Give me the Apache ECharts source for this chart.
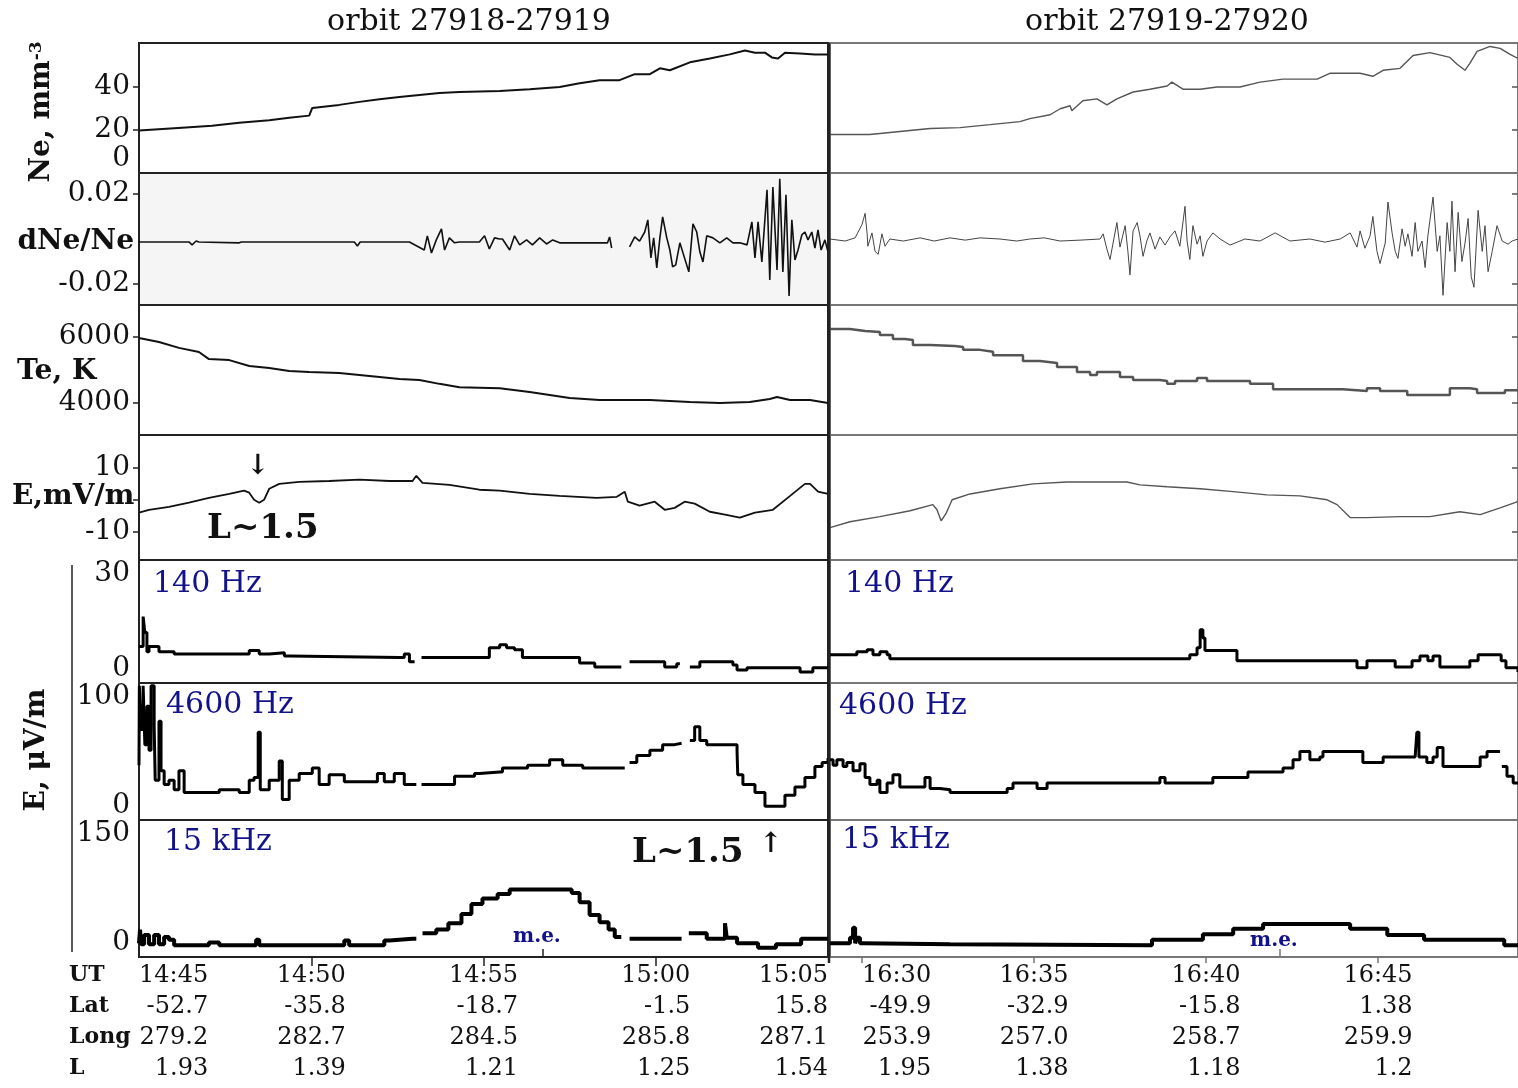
<!DOCTYPE html>
<html><head><meta charset="utf-8"><title>Orbits 27918-27920</title>
<script src="https://cdn.jsdelivr.net/npm/echarts@6.0.0/dist/echarts.min.js"></script>
<style>html,body{margin:0;padding:0;background:#fff;}#chart{width:1518px;height:1088px;}</style>
</head><body><div id="chart"></div>
<script>
// ---------- bottom tick-label table ----------
const utLeft   = ['14:45','14:50','14:55','15:00','15:05'];
const latLeft  = ['-52.7','-35.8','-18.7','-1.5','15.8'];
const longLeft = ['279.2','282.7','284.5','285.8','287.1'];
const lLeft    = ['1.93','1.39','1.21','1.25','1.54'];
const utRight   = ['16:30','16:35','16:40','16:45'];
const latRight  = ['-49.9','-32.9','-15.8','1.38'];
const longRight = ['253.9','257.0','258.7','259.9'];
const lRight    = ['1.95','1.38','1.18','1.2'];

// ---------- data: [minutes after 14:45 (left) / after 16:30 (right), value] ----------
const neLeft = [[0,19.8],[1.25,21.1],[2.12,22],[2.91,23.4],[3.78,24.6],[4.36,25.7],[4.94,26.7],[5.03,30.3],[5.81,31.7],[6.40,33.1],[6.98,34.3],[7.56,35.4],[8.14,36.3],[8.72,37.2],[9.30,37.7],[10.47,38.2],[11.34,39],[12.21,40],[12.79,41.8],[13.37,43.2],[13.95,43.2],[14.39,46],[14.83,46],[15.12,48.7],[15.41,47.8],[15.99,51.5],[16.57,53.3],[17.15,55.2],[17.59,57],[17.88,56],[18.17,56],[18.37,53.8],[18.55,53.3],[18.75,56],[19.19,55.6],[19.62,55.2],[20,55.2]];
const neRight = [[-0.93,17.9],[0.23,17.9],[1.10,19.3],[1.98,20.7],[2.85,21.1],[3.72,22.5],[4.01,23],[4.59,23.9],[4.88,25.3],[5.47,27.1],[5.76,29.9],[6.05,31.3],[6.10,29],[6.42,33.6],[6.83,34.5],[7.12,31.7],[7.41,34.5],[7.88,37.7],[8.37,39],[8.87,40.5],[9.01,42.3],[9.33,39],[9.83,39],[10.32,40],[10.99,40],[11.57,42.3],[12.24,43.7],[13.23,43.7],[13.60,46.4],[14.48,46.4],[14.85,45],[15.15,47.8],[15.64,48.7],[16.02,54.7],[16.51,56],[17.09,53.8],[17.30,50.6],[17.53,47.8],[17.67,51],[17.88,56.6],[18.26,58.9],[18.55,58],[18.84,55.2],[19.07,53.3]];

// dNe/Ne, values in units of 1e-3
const dneLeftMilli = [[0,-1.3],[1.45,-1.3],[1.54,-2.6],[1.66,-0.9],[1.74,-1.3],[2.91,-1.7],[2.97,-1.3],[6.25,-1.3],[6.34,-3.1],[6.42,-1.3],[7.85,-1.3],[8.28,-4.9],[8.37,1.4],[8.49,-6.2],[8.63,-0.4],[8.78,4.5],[8.87,-4.9],[9.01,0.5],[9.16,-1.7],[9.30,-1.3],[9.88,-1.3],[10.03,1.4],[10.17,-4.4],[10.32,0.5],[10.47,0],[10.55,0],[10.76,-4.9],[10.90,1.4],[11.05,-2.6],[11.25,-0.4],[11.42,-2.6],[11.63,0.5],[11.83,-2.2],[12.01,-0.4],[12.21,-1.7],[13.60,-1.7],[13.66,0.9],[13.72,-4.0],[13.9,null],[14.24,-3.5],[14.39,0.9],[14.53,-0.9],[14.68,3.1],[14.77,8.5],[14.86,-8.4],[14.94,0.5],[15.03,-12.8],[15.12,0.5],[15.20,9.8],[15.32,0.5],[15.41,-4.9],[15.49,-12.4],[15.58,-11.5],[15.70,-1.7],[15.96,-14.6],[16.08,6.7],[16.19,3.1],[16.28,-5.7],[16.37,-10.2],[16.48,1.4],[16.66,0.5],[16.86,-1.7],[17.06,0.5],[17.24,-1.7],[17.44,-1.7],[17.65,-2.6],[17.79,7.6],[17.88,-8.4],[17.97,7.6],[18.08,-10.2],[18.23,21.8],[18.31,-18.2],[18.40,23.1],[18.52,-13.7],[18.60,26.7],[18.69,-14.6],[18.78,19.6],[18.87,-25.3],[18.95,8.5],[19.04,-9.3],[19.13,-4.9],[19.24,1.8],[19.33,3.1],[19.42,-0.4],[19.53,3.1],[19.62,-4.0],[19.71,4.0],[19.80,-4.9],[19.91,-0.4],[20,-5.7]];
const dneRightMilli = [[-0.93,0],[-0.49,-0.9],[-0.20,0.5],[0,6.4],[0.09,11.4],[0.15,2.3],[0.17,-3.2],[0.29,2.7],[0.38,-5.5],[0.47,-6.8],[0.58,2.3],[0.67,-3.2],[0.81,0],[1.2,-0.9],[1.69,0.5],[2.1,-0.9],[2.56,0.5],[3.0,-0.5],[3.43,0.5],[4.01,0],[4.5,-0.9],[4.88,0],[5.3,0.5],[5.76,-0.9],[6.34,-0.5],[6.92,0],[7.01,2.3],[7.12,-4.5],[7.21,-9.1],[7.41,7.3],[7.50,-3.6],[7.65,5.9],[7.73,-5.5],[7.79,-15.9],[7.88,3.6],[8.00,7.3],[8.08,1.4],[8.17,-7.7],[8.28,-0.9],[8.37,2.7],[8.52,-4.5],[8.66,0.9],[8.81,-2.7],[8.95,0.9],[9.10,3.6],[9.24,-3.2],[9.39,14.5],[9.45,-0.9],[9.53,-9.1],[9.62,5.9],[9.74,-2.3],[9.83,1.4],[9.91,-7.7],[10.03,-0.9],[10.20,2.7],[10.41,0],[10.70,-2.7],[11.13,0],[11.57,-0.9],[12.01,2.7],[12.44,-0.9],[13.02,0],[13.46,-1.4],[13.90,0],[14.19,2.7],[14.39,-3.6],[14.48,3.6],[14.62,-4.1],[14.77,1.4],[14.85,10.0],[14.97,-5.5],[15.06,-10.9],[15.21,-1.8],[15.29,16.4],[15.41,2.7],[15.50,-5.5],[15.58,-8.6],[15.70,4.5],[15.79,-3.2],[15.87,2.3],[15.99,-7.7],[16.08,7.3],[16.16,-5.5],[16.28,-0.9],[16.37,-12.7],[16.45,1.4],[16.60,18.6],[16.72,-5.5],[16.80,1.4],[16.89,-25.0],[17.01,7.3],[17.09,-5.5],[17.15,16.8],[17.24,-14.5],[17.33,11.8],[17.44,-10.0],[17.53,-1.8],[17.62,9.1],[17.71,-16.8],[17.79,-21.4],[17.91,12.7],[18.03,-5.5],[18.11,5.9],[18.20,-14.5],[18.32,-5.5],[18.46,5.9],[18.61,-0.9],[18.78,-2.3],[18.90,-0.9],[19.07,0]];

const teLeft = [[0,5970],[0.58,5850],[1.16,5670],[1.74,5545],[2.03,5330],[2.62,5300],[3.20,5120],[3.78,5060],[4.36,4970],[4.94,4940],[5.81,4910],[6.40,4850],[6.98,4790],[7.56,4730],[8.14,4700],[8.72,4580],[9.30,4480],[10.47,4450],[11.34,4330],[11.92,4240],[12.50,4150],[13.37,4090],[14.83,4090],[15.99,4030],[16.86,4000],[17.73,4030],[18.31,4120],[18.52,4180],[18.90,4090],[19.48,4090],[20,4000]];
const teRight = [[-0.93,6240],[-0.35,6180],[0.09,6150],[0.52,6060],[0.90,5940],[1.25,5910],[1.48,5760],[1.98,5730],[2.70,5700],[2.94,5610],[3.43,5550],[3.81,5450],[4.68,5270],[5.17,5210],[5.67,5090],[6.25,4940],[6.63,4850],[6.83,4940],[7.21,4940],[7.50,4790],[7.88,4700],[8.66,4670],[8.87,4580],[9.10,4670],[9.74,4760],[10.03,4670],[10.90,4670],[11.28,4580],[11.77,4580],[11.95,4420],[13.69,4420],[13.98,4360],[14.68,4450],[15.06,4360],[15.85,4240],[16.60,4240],[17.09,4450],[17.67,4420],[17.88,4300],[18.55,4300],[18.69,4390],[19.07,4390]];

const eLeft = [[0,-4.0],[0.29,-3.1],[0.87,-2.2],[1.45,-0.9],[2.03,0.6],[2.62,1.8],[3.05,2.8],[3.20,2.2],[3.34,0],[3.49,-0.9],[3.63,0],[3.78,3.4],[4.07,4.9],[4.65,5.5],[5.52,5.8],[6.40,6.2],[7.27,5.8],[7.94,5.8],[8.05,7.4],[8.23,5.2],[9.01,4.6],[9.88,3.1],[10.47,2.8],[11.34,1.8],[12.21,1.2],[13.28,0.6],[13.87,0.9],[14.10,2.5],[14.19,-0.6],[14.53,-1.8],[14.97,-0.6],[15.26,-3.1],[15.55,-2.5],[15.84,-0.6],[16.13,-1.2],[16.57,-3.7],[17.01,-4.6],[17.44,-5.5],[17.88,-4.0],[18.40,-3.1],[18.90,1.2],[19.33,4.9],[19.48,4.9],[19.71,2.5],[20,1.8]];
const eRight = [[-0.93,-8.6],[-0.35,-6.8],[0.52,-5.2],[1.40,-3.4],[2.06,-1.5],[2.18,-3.1],[2.30,-6.5],[2.44,-4.3],[2.62,0],[3.14,1.8],[4.01,3.4],[4.97,4.9],[5.96,5.5],[6.92,5.5],[7.70,5.5],[8.08,4.6],[8.87,4.0],[9.83,3.4],[10.79,2.5],[11.77,1.5],[12.73,1.2],[13.52,0],[13.81,-1.5],[14.19,-5.5],[14.68,-5.5],[15.64,-5.2],[16.51,-5.2],[17.38,-3.7],[17.97,-4.6],[18.55,-2.5],[18.98,-0.9],[19.07,-0.5]];

const hz140Left = [[0,8.9],[0.12,16.2],[0.17,12.3],[0.23,7.6],[0.29,8.9],[0.58,7.6],[1.02,7.1],[2.91,7.1],[3.20,7.9],[3.49,7.1],[3.78,7.4],[4.22,6.6],[4.36,6.2],[7.56,6.2],[7.70,7.1],[7.85,5.2],[7.95,5.2],[8.0,null],[8.20,6.2],[9.88,6.2],[10.17,8.6],[10.47,9.3],[10.67,8.6],[10.90,8.1],[11.13,6.2],[12.70,6.2],[12.79,4.9],[13.23,3.9],[13.87,3.9],[14.0,null],[14.24,5.2],[15.12,5.2],[15.26,3.9],[15.61,4.7],[15.7,null],[15.99,3.9],[16.28,5.2],[16.86,5.2],[17.24,4.4],[17.36,3.2],[17.65,3.7],[19.10,3.7],[19.19,2.7],[19.48,2.7],[19.56,3.7],[20,3.7]];
const hz140Right = [[-0.93,6.9],[-0.26,6.9],[-0.15,7.6],[0.15,8.1],[0.32,6.9],[0.52,7.6],[0.73,6.9],[0.81,5.9],[9.39,5.9],[9.53,6.9],[9.74,8.6],[9.83,13],[9.91,11],[9.97,7.9],[10.79,7.9],[10.90,5.4],[14.33,5.4],[14.39,3.7],[14.68,5.4],[15.44,5.4],[15.50,3.9],[15.99,5.4],[16.22,6.6],[16.45,5.4],[16.60,6.6],[16.80,3.9],[17.67,5.4],[17.91,6.9],[18.46,6.9],[18.58,5.4],[18.72,3.7],[19.07,2.7]];

const hz4600Left = [[0,40],[0.01,98],[0.06,66],[0.12,98],[0.17,55],[0.23,83],[0.29,51],[0.35,98],[0.44,69],[0.47,29],[0.58,72],[0.64,36],[0.73,26],[0.87,29],[1.02,22],[1.16,36],[1.31,20],[1.74,20],[2.33,22],[2.91,20],[3.20,29],[3.34,31],[3.46,64],[3.52,22],[3.78,29],[4.07,43],[4.16,15],[4.36,29],[4.65,34],[5.03,38],[5.23,26],[5.52,33],[5.96,28],[6.69,28],[6.92,34],[7.12,28],[7.41,34],[7.70,26],[7.91,26],[8.05,null],[8.20,26],[9.01,26],[9.16,32],[9.74,34],[9.88,35],[10.47,35],[10.55,38],[11.28,40],[11.92,44],[12.30,40],[12.88,38],[13.95,38],[14.1,null],[14.24,42],[14.45,47],[14.83,51],[15.20,55],[15.55,56],[15.75,null],[15.99,58],[16.13,68],[16.28,58],[16.48,55],[17.30,55],[17.36,50],[17.38,33],[17.53,26],[17.88,20],[18.17,10],[18.46,10],[18.75,18],[19.04,24],[19.33,31],[19.62,39],[19.83,42],[20,45]];
const hz4600Right = [[-0.93,44],[-0.84,40],[-0.73,44],[-0.55,39],[-0.44,42],[-0.26,36],[-0.06,41],[0.09,31],[0.23,26],[0.44,29],[0.52,20],[0.73,27],[0.90,33],[1.10,24],[1.69,24],[1.83,31],[1.98,23],[2.27,22],[2.56,20],[4.01,20],[4.22,23],[4.39,27],[4.88,27],[5.09,23],[5.38,27],[8.58,27],[8.66,31],[8.81,27],[10.12,27],[10.20,31],[11.08,31],[11.22,35],[12.15,35],[12.24,38],[12.53,44],[12.73,50],[13.02,44],[13.31,46],[13.40,50],[14.39,50],[14.56,42],[15.06,42],[15.15,46],[16.08,46],[16.13,64],[16.19,46],[16.42,42],[16.60,46],[16.72,53],[16.89,39],[17.76,39],[17.97,46],[18.17,50],[18.55,50],[18.57,null],[18.60,39],[18.75,32],[18.93,27],[19.07,27]];

const khz15Left = [[0,15],[0.03,30],[0.06,14],[0.15,24],[0.29,14],[0.44,24],[0.58,14],[0.73,22],[0.87,19],[1.02,13],[2.03,16],[2.33,13],[3.40,19],[3.49,13],[5.90,13],[5.96,18],[6.10,13],[7.12,18],[7.27,20],[7.94,20],[8.05,null],[8.23,26],[8.63,30],[8.98,37],[9.36,47],[9.65,58],[9.97,64],[10.41,69],[10.76,74],[12.41,74],[12.56,70],[12.79,60],[13.08,46],[13.37,38],[13.63,30],[13.81,22],[14.0,null],[14.24,20],[15.61,20],[15.75,null],[15.96,26],[16.48,20],[16.92,20],[17.01,37],[17.06,21],[17.36,15],[17.97,10],[18.49,14],[19.22,20],[20,20]];
const khz15Right = [[-0.93,15],[-0.35,21],[-0.26,32],[-0.20,15],[-0.15,21],[-0.06,15],[0.03,14],[2.56,13],[8.43,19],[9.91,25],[10.79,31],[11.66,36],[14.19,31],[15.27,24],[16.34,19],[18.67,13],[19.07,13]];

// ---------- layout ----------
const F = '"DejaVu Serif", "Liberation Serif", serif';
const NAVY = '#12128a';
const rows = [
  {top:43,  height:130, min:0, max:60.5, labels:[0,20,40], ticks:[20,40], rticks:[20,40], vmin:'bottom'},
  {top:173, height:132, min:-0.0293, max:0.0293, labels:[-0.02,0.02], ticks:[-0.02,0.02], rticks:[-0.02,0.02]},
  {top:305, height:130, min:3030, max:6970, labels:[4000,6000], ticks:[4000,6000], rticks:[4000,6000]},
  {top:435, height:125, min:-18.6, max:20, labels:[-10,10], ticks:[-10,0,10], rticks:[-10,10]},
  {top:560, height:123, min:0, max:30, labels:[0,30], ticks:[], rticks:[], vmin:'bottom', vmax:'top'},
  {top:683, height:137, min:0, max:100, labels:[0,100], ticks:[], rticks:[], vmin:'bottom', vmax:'top'},
  {top:820, height:137, min:0, max:150, labels:[0,150], ticks:[], rticks:[], vmin:'bottom', vmax:'top'}
];
const cols = [
  {left:139, width:689, tmin:0, tmax:20, border:'#222'},
  {left:830, width:688, tmin:-0.93, tmax:19.07, border:'#777'}
];
const milli = a => a.map(p => [p[0], p[1] === null ? null : p[1] * 1e-3]);
const seriesDefs = [
  {r:0,c:0,data:neLeft, color:'#111', w:2},
  {r:0,c:1,data:neRight, color:'#555', w:1.4},
  {r:1,c:0,data:milli(dneLeftMilli), color:'#111', w:1.6},
  {r:1,c:1,data:milli(dneRightMilli), color:'#444', w:1},
  {r:2,c:0,data:teLeft, color:'#111', w:2},
  {r:2,c:1,data:teRight, color:'#555', w:2.5, step:'end'},
  {r:3,c:0,data:eLeft, color:'#111', w:1.8},
  {r:3,c:1,data:eRight, color:'#555', w:1.4},
  {r:4,c:0,data:hz140Left, color:'#000', w:3, step:'end'},
  {r:4,c:1,data:hz140Right, color:'#000', w:3, step:'end'},
  {r:5,c:0,data:hz4600Left, color:'#000', w:3, step:'end'},
  {r:5,c:1,data:hz4600Right, color:'#000', w:3, step:'end'},
  {r:6,c:0,data:khz15Left, color:'#000', w:4, step:'end'},
  {r:6,c:1,data:khz15Right, color:'#000', w:4, step:'end'}
];

const grids = [], xAxes = [], yAxes = [], series = [];
const tableRich = {a:{align:'right', fontSize:24, lineHeight:31, fontFamily:F, color:'#111'}};
function tableLabel(ut, lat, lon, l, i) {
  return '{a|' + ut[i] + '}\n{a|' + lat[i] + '}\n{a|' + lon[i] + '}\n{a|' + l[i] + '}';
}
rows.forEach((rw, r) => {
  cols.forEach((cl, c) => {
    const gi = r * 2 + c;
    grids.push({left:cl.left, top:rw.top, width:cl.width, height:rw.height, show:true,
      borderColor:cl.border, borderWidth:2, outerBoundsMode:'none', containLabel:false,
      backgroundColor: (r === 1 && c === 0) ? '#f5f5f5' : 'transparent'});
    const last = r === rows.length - 1;
    let xa = {gridIndex:gi, type:'value', min:cl.tmin, max:cl.tmax, show:false, axisLine:{onZero:false}};
    if (last) {
      xa = {gridIndex:gi, type:'value', min:cl.tmin, max:cl.tmax, position:'bottom', show:true,
        axisLine:{show:true, onZero:false, lineStyle:{color:cl.border, width:2}},
        splitLine:{show:false},
        axisTick:{show:true, customValues: c === 0 ? [5,10,15] : [0,5,10,15], length: c === 0 ? 9 : 6,
          lineStyle:{color:cl.border, width:1.5}},
        axisLabel:{show:true, margin:3, customValues: c === 0 ? [0,5,10,15,20] : [0,5,10,15],
          alignMinLabel:'left', alignMaxLabel: c === 0 ? 'right' : undefined,
          formatter: v => c === 0 ? tableLabel(utLeft, latLeft, longLeft, lLeft, Math.round(v / 5))
                                  : tableLabel(utRight, latRight, longRight, lRight, Math.round(v / 5)),
          rich: tableRich}};
    }
    xAxes.push(xa);
    const tk = c === 0 ? rw.ticks : rw.rticks;
    yAxes.push({gridIndex:gi, type:'value', min:rw.min, max:rw.max, position: c === 0 ? 'left' : 'right',
      axisLine:{show:false, onZero:false}, splitLine:{show:false},
      axisTick:{show: tk.length > 0, inside: c === 1, length: c === 0 ? 6 : 6, customValues: tk,
        lineStyle:{color: c === 0 ? '#222' : '#555', width:1.5}},
      axisLabel: c === 0 ? {show:true, customValues: rw.labels, fontSize:28, fontFamily:F, color:'#111', margin:9,
        verticalAlignMinLabel: rw.vmin, verticalAlignMaxLabel: rw.vmax,
        formatter: v => String(v)} : {show:false}});
  });
});
seriesDefs.forEach(s => {
  const gi = s.r * 2 + s.c;
  series.push({type:'line', xAxisIndex:gi, yAxisIndex:gi, showSymbol:false, symbol:'none', silent:true,
    step: s.step || false, connectNulls:false, animation:false,
    data: s.data.map(p => [p[0], p[1] === null ? '-' : p[1]]),
    lineStyle:{color:s.color, width:s.w}});
});

function txt(text, x, y, o) {
  o = o || {};
  return {type:'text', x:x, y:y, rotation:o.rot || 0, z:50,
    style:{text:text, fill:o.color || '#111', fontSize:o.size || 28, fontFamily:F, fontWeight:o.weight || 'normal',
      align:o.align || 'left', verticalAlign:o.va || 'middle', lineHeight:o.lh, rich:o.rich}};
}
const graphic = [
  {type:'line', z:60, shape:{x1:829, y1:43, x2:829, y2:963}, style:{stroke:'#222', lineWidth:2.5}},
  {type:'line', z:60, shape:{x1:72, y1:565, x2:72, y2:952}, style:{stroke:'#222', lineWidth:1.5}},
  {type:'line', z:60, shape:{x1:543, y1:957, x2:543, y2:949}, style:{stroke:'#222', lineWidth:1.5}},
  {type:'line', z:60, shape:{x1:1280, y1:957, x2:1280, y2:949}, style:{stroke:'#777', lineWidth:1.5}},
  txt('orbit 27918-27919', 469, 22, {size:30, align:'center'}),
  txt('orbit 27919-27920', 1167, 22, {size:30, align:'center'}),
  txt('{a|Ne, mm}{s|-3}', 42, 112, {rot:Math.PI/2, align:'center', rich:{
    a:{fontSize:28, fontWeight:'bold', fontFamily:F, color:'#111'},
    s:{fontSize:17, fontWeight:'bold', fontFamily:F, color:'#111', verticalAlign:'top'}}}),
  txt('dNe/Ne', 134, 242, {weight:'bold', align:'right'}),
  txt('Te, K', 17, 372, {weight:'bold'}),
  txt('E,mV/m', 12, 497, {weight:'bold'}),
  txt('E, \u03bcV/m', 37, 750, {rot:Math.PI/2, align:'center', weight:'bold'}),
  txt('UT\nLat\nLong\nL', 69, 960, {size:22, weight:'bold', va:'top', lh:31}),
  txt('140 Hz', 153, 584, {size:30, color:NAVY}),
  txt('140 Hz', 845, 584, {size:30, color:NAVY}),
  txt('4600 Hz', 166, 705, {size:30, color:NAVY}),
  txt('4600 Hz', 839, 706, {size:30, color:NAVY}),
  txt('15 kHz', 164, 842, {size:30, color:NAVY}),
  txt('15 kHz', 842, 840, {size:30, color:NAVY}),
  txt('m.e.', 513, 937, {size:20, weight:'bold', color:NAVY}),
  txt('m.e.', 1250, 941, {size:20, weight:'bold', color:NAVY}),
  txt('L~1.5', 207, 529, {size:34, weight:'bold'}),
  txt('\u2193', 258, 467, {size:28, weight:'bold', align:'center'}),
  txt('L~1.5', 632, 853, {size:34, weight:'bold'}),
  txt('\u2191', 771, 845, {size:28, weight:'bold', align:'center'})
];

const chart = echarts.init(document.getElementById('chart'), null, {renderer:'canvas'});
chart.setOption({
  animation:false,
  backgroundColor:'#ffffff',
  textStyle:{fontFamily:F},
  grid:grids, xAxis:xAxes, yAxis:yAxes, series:series, graphic:graphic
});
</script>
</body></html>
